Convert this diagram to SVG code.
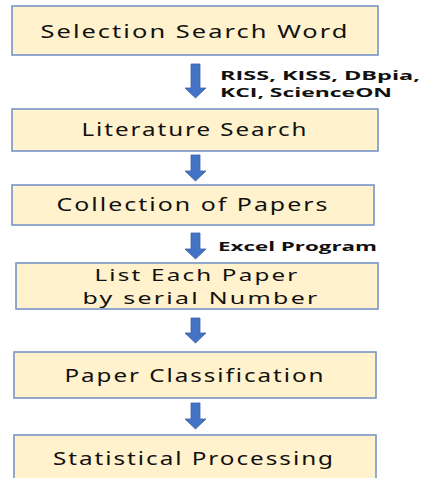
<svg xmlns="http://www.w3.org/2000/svg" width="423" height="478" viewBox="0 0 423 478">
<style>
.box{fill:#FFF2CC;stroke:#6F8FC5;stroke-width:1.5}
.t{font-family:"Noto Sans","DejaVu Sans",sans-serif;font-size:18.5px;letter-spacing:1.5px;fill:#111;text-anchor:middle}
.t2{font-size:16.5px}
.l{font-family:"Open Sans","Liberation Sans",Arial,sans-serif;font-size:13px;font-weight:bold;fill:#111}
.arr{fill:#4472C4;stroke:#3A62AA;stroke-width:0.8}
</style>
<rect width="423" height="478" fill="#fff"/>
<g id="n1"><rect class="box" x="12" y="6" width="366" height="49"/><text class="t" x="195" y="38" textLength="309" lengthAdjust="spacingAndGlyphs">Selection Search Word</text></g>
<g id="n2"><rect class="box" x="12" y="109" width="366" height="42"/><text class="t" x="195" y="136" textLength="227" lengthAdjust="spacingAndGlyphs">Literature Search</text></g>
<g id="n3"><rect class="box" x="12" y="185" width="362" height="40"/><text class="t" x="193" y="211" textLength="273" lengthAdjust="spacingAndGlyphs">Collection of Papers</text></g>
<g id="n4"><rect class="box" x="16" y="263" width="362" height="46"/><text class="t t2" x="197" y="281" textLength="205" lengthAdjust="spacingAndGlyphs">List Each Paper</text><text class="t t2" x="201" y="303.5" textLength="237" lengthAdjust="spacingAndGlyphs">by serial Number</text></g>
<g id="n5"><rect class="box" x="14" y="352" width="362" height="46"/><text class="t" x="195" y="382" textLength="261" lengthAdjust="spacingAndGlyphs">Paper Classification</text></g>
<g id="n6"><rect class="box" x="14" y="435" width="362" height="60"/><text class="t" x="194" y="465" textLength="282" lengthAdjust="spacingAndGlyphs">Statistical Processing</text></g>
<g id="connectors">
<path class="arr" d="M191,64 H200 V88 H206 L195.5,98 L185,88 H191 Z"/>
<path class="arr" d="M191,155 H200 V171 H206 L195.5,181 L185,171 H191 Z"/>
<path class="arr" d="M191,233 H200 V249 H206 L195.5,259 L185,249 H191 Z"/>
<path class="arr" d="M191,318 H200 V333 H206 L195.5,343 L185,333 H191 Z"/>
<path class="arr" d="M191,403 H200 V419 H206 L195.5,429 L185,419 H191 Z"/>
<text class="l" x="220" y="80" textLength="200" lengthAdjust="spacingAndGlyphs">RISS, KISS, DBpia,</text>
<text class="l" x="220" y="97" textLength="172" lengthAdjust="spacingAndGlyphs">KCI, ScienceON</text>
<text class="l" x="218" y="251" textLength="159" lengthAdjust="spacingAndGlyphs">Excel Program</text>
</g>
</svg>
